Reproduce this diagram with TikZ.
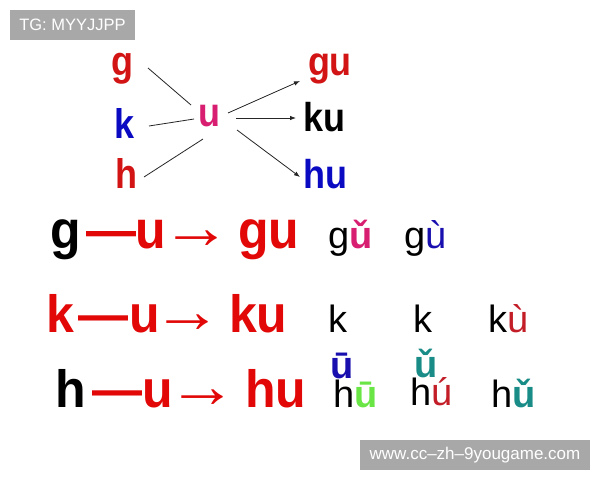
\documentclass[tikz,border=0pt]{standalone}
\usepackage{fontspec}
\usepackage{graphicx}
\setmainfont{Liberation Sans}
\usetikzlibrary{arrows.meta}
\definecolor{cred}{RGB}{226,8,8}
\definecolor{tred}{RGB}{210,20,20}
\definecolor{cblue}{RGB}{10,10,195}
\definecolor{cpink}{RGB}{216,30,112}
\definecolor{dblue}{RGB}{25,15,175}
\definecolor{dred}{RGB}{195,30,40}
\definecolor{cgreen}{RGB}{105,230,70}
\definecolor{cteal}{RGB}{25,140,135}
\definecolor{wgray}{RGB}{168,168,168}
\newcommand\vst[2]{\scalebox{1}[#1]{#2}}
\newcommand\bigarr{\scalebox{1.4}[1.25]{→}}
\tikzset{
  lt/.style={inner sep=0pt, outer sep=0pt, anchor=base west},
  topf/.style={lt, font=\fontsize{36}{40}\bfseries\selectfont},
  bigf/.style={lt, font=\fontsize{50}{56}\bfseries\selectfont},
  arrf/.style={lt, font=\fontsize{50}{56}\selectfont},
  tonef/.style={lt, font=\fontsize{38}{42}\selectfont},
  conn/.style={draw=black!85, line width=0.8pt},
  connar/.style={conn, -{Latex[length=6pt,width=4.5pt]}},
  wbox/.style={fill=wgray, inner sep=0pt, text=white, font=\fontsize{16.5}{20}\selectfont}
}
\begin{document}
\begin{tikzpicture}[x=1pt,y=-1pt]
\useasboundingbox (0,0) rectangle (600,480);
\fill[white] (0,0) rectangle (600,480);
% watermark boxes
\node[wbox, minimum width=125pt, minimum height=30pt] (tg) at (72.5,25) {TG: MYYJJPP};
\node[wbox, minimum width=230pt, minimum height=30pt, font=\fontsize{17}{20}\selectfont] (www) at (475,455) {www.cc–zh–9yougame.com};
% top diagram
\node[topf, text=tred] (g) at (111.5,75) {\vst{1.15}{g}};
\node[topf, text=cblue] (k) at (114.5,138) {\vst{1.15}{k}};
\node[topf, text=tred] (h) at (115.5,188) {\vst{1.15}{h}};
\node[topf, text=cpink] (u) at (198.5,126) {\vst{1.12}{u}};
\node[topf, text=tred] (gu) at (308,75) {\vst{1.12}{gu}};
\node[topf, text=black] (ku) at (303,131) {\vst{1.12}{ku}};
\node[topf, text=cblue] (hu) at (303.5,188) {\vst{1.12}{hu}};
\coordinate (g1) at (148,68);  \coordinate (u1) at (191,105);
\coordinate (k1) at (149,126); \coordinate (u2) at (194,119);
\coordinate (h1) at (144,177); \coordinate (u3) at (203,139);
\coordinate (u4) at (228,113); \coordinate (gu1) at (300,81);
\coordinate (u5) at (236,118); \coordinate (ku1) at (296,118);
\coordinate (u6) at (237,130); \coordinate (hu1) at (300,177);
\draw[conn] (g1) -- (u1);
\draw[conn] (k1) -- (u2);
\draw[conn] (h1) -- (u3);
\draw[connar] (u4) -- (gu1);
\draw[connar] (u5) -- (ku1);
\draw[connar] (u6) -- (hu1);
% row g
\node[bigf, text=black] (rg) at (50,248) {\vst{1.07}{g}};
\node[bigf, text=cred] (rgd) at (86,248) {\vst{1.07}{—}};
\node[bigf, text=cred] (rgu) at (135,248) {\vst{1.07}{u}};
\node[arrf, text=cred] (rga) at (161,248) {\bigarr};
\node[bigf, text=cred] (rgr) at (238,248) {\vst{1.07}{gu}};
% row k
\node[bigf, text=cred] (rk) at (46,332) {\vst{1.05}{k}};
\node[bigf, text=cred] (rkd) at (78,332) {\vst{1.05}{—}};
\node[bigf, text=cred] (rku) at (129,332) {\vst{1.05}{u}};
\node[arrf, text=cred] (rka) at (152,332) {\bigarr};
\node[bigf, text=cred] (rkr) at (229,332) {\vst{1.05}{ku}};
% row h
\node[bigf, text=black] (rh) at (55,407) {\vst{1.05}{h}};
\node[bigf, text=cred] (rhd) at (92,407) {\vst{1.05}{—}};
\node[bigf, text=cred] (rhu) at (142,407) {\vst{1.05}{u}};
\node[arrf, text=cred] (rha) at (167,407) {\bigarr};
\node[bigf, text=cred] (rhr) at (245,407) {\vst{1.05}{hu}};
% tone syllables
\node[tonef] (t1) at (328,248) {g\textcolor{cpink}{\bfseries ǔ}};
\node[tonef] (t2) at (404,248) {g\textcolor{dblue}{ù}};
\node[tonef] (t3) at (328,332) {k};
\node[tonef] (t4) at (413,332) {k};
\node[tonef] (t5) at (488,332) {k\textcolor{dred}{ù}};
\node[tonef, text=dblue, font=\fontsize{38}{42}\bfseries\selectfont] (t6a) at (330,378) {ū};
\node[tonef] (t6) at (333,407) {h\textcolor{cgreen}{\bfseries ū}};
\node[tonef, text=cteal, font=\fontsize{38}{42}\bfseries\selectfont] (t7a) at (414,377) {ǔ};
\node[tonef] (t7) at (410,405) {h\textcolor{dred}{ú}};
\node[tonef] (t8) at (491,407) {h\textcolor{cteal}{\bfseries ǔ}};
\end{tikzpicture}
\end{document}
